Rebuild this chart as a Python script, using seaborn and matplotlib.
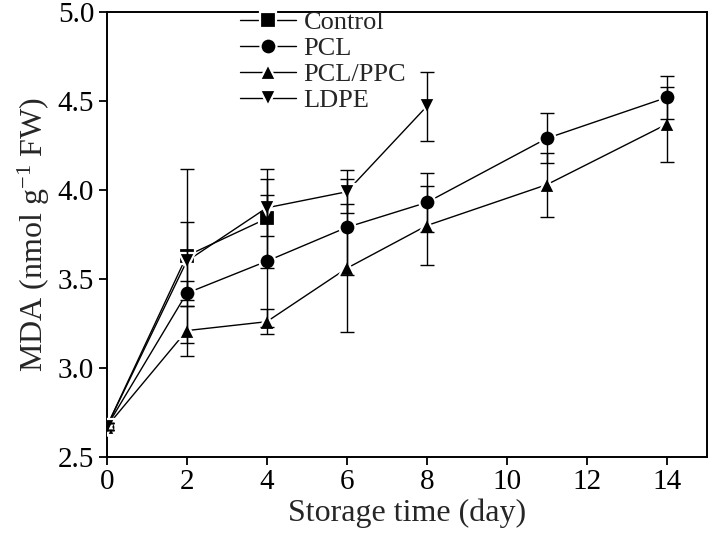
import matplotlib
matplotlib.use("Agg")
import matplotlib.pyplot as plt
import seaborn as sns
import pandas as pd
import numpy as np

# Data
control_days = [0, 2, 4]
control_mda = [2.67, 3.63, 3.84]
control_err = [0.02, 0.49, 0.28]

pcl_days = [0, 2, 4, 6, 8, 11, 14]
pcl_mda = [2.67, 3.42, 3.60, 3.79, 3.93, 4.29, 4.52]
pcl_err = [0.02, 0.07, 0.37, 0.27, 0.165, 0.14, 0.12]

pclppc_days = [0, 2, 4, 6, 8, 11, 14]
pclppc_mda = [2.67, 3.21, 3.26, 3.56, 3.80, 4.03, 4.37]
pclppc_err = [0.02, 0.14, 0.07, 0.36, 0.22, 0.18, 0.21]

ldpe_days = [0, 2, 4, 6, 8]
ldpe_mda = [2.67, 3.60, 3.90, 3.99, 4.47]
ldpe_err = [0.02, 0.22, 0.16, 0.12, 0.195]

series_names = ["Control", "PCL", "PCL/PPC", "LDPE"]
series = [
    (control_days, control_mda, control_err),
    (pcl_days, pcl_mda, pcl_err),
    (pclppc_days, pclppc_mda, pclppc_err),
    (ldpe_days, ldpe_mda, ldpe_err),
]
markers = {"Control": "s", "PCL": "o", "PCL/PPC": "^", "LDPE": "v"}

rows = []
for name, (d, m, e) in zip(series_names, series):
    for di, mi, ei in zip(d, m, e):
        rows.append({"day": di, "MDA": mi, "err": ei, "treatment": name})
df = pd.DataFrame(rows)

sns.set_style("ticks")
plt.rcParams["font.family"] = ["Liberation Serif", "DejaVu Serif"]
plt.rcParams["mathtext.fontset"] = "custom"
plt.rcParams["mathtext.rm"] = "Liberation Serif"
plt.rcParams["mathtext.it"] = "Liberation Serif:italic"

MS = 11.5
MEW = 1.6

fig = plt.figure(figsize=(7.09, 5.38), dpi=100)
ax = fig.add_axes([0.1505, 0.1506, 0.8465, 0.8271])

sns.lineplot(data=df, x="day", y="MDA", hue="treatment", style="treatment",
             hue_order=series_names, style_order=series_names,
             palette=["black"] * 4, markers=markers, dashes=False,
             markersize=MS, linewidth=1.0, markeredgecolor="white",
             markeredgewidth=MEW, ax=ax, zorder=3, legend=True)

for name, (d, m, e) in zip(series_names, series):
    ax.errorbar(d, m, yerr=e, fmt="none", ecolor="black", elinewidth=1.0,
                capsize=5, capthick=1.0, zorder=4)

ax.set_xlim(0, 15)
ax.set_ylim(2.5, 5.0)
ax.set_xticks([0, 2, 4, 6, 8, 10, 12, 14])
ax.set_yticks([2.5, 3.0, 3.5, 4.0, 4.5, 5.0])
ax.set_yticklabels(["2.5", "3.0", "3.5", "4.0", "4.5", "5.0"])
ax.set_xlabel("Storage time (day)", fontsize=23, labelpad=2)
ax.set_ylabel("MDA (nmol g$^{-1}$ FW)", fontsize=23, labelpad=4)
ax.tick_params(axis="both", labelsize=21, direction="out", length=6, width=1.3,
               colors="black", pad=3)
for s in ax.spines.values():
    s.set_linewidth(1.4)
    s.set_color("black")

leg = ax.legend(loc="upper left", bbox_to_anchor=(0.205, 1.027), frameon=False,
                fontsize=19, handlelength=2.1, handletextpad=0.3,
                labelspacing=0.1, borderaxespad=0)
for h in leg.legend_handles:
    h.set_markeredgecolor("white")
    h.set_markeredgewidth(MEW)
    h.set_markersize(MS)
    h.set_linewidth(1.0)

fig.savefig("out.png", dpi=100)
